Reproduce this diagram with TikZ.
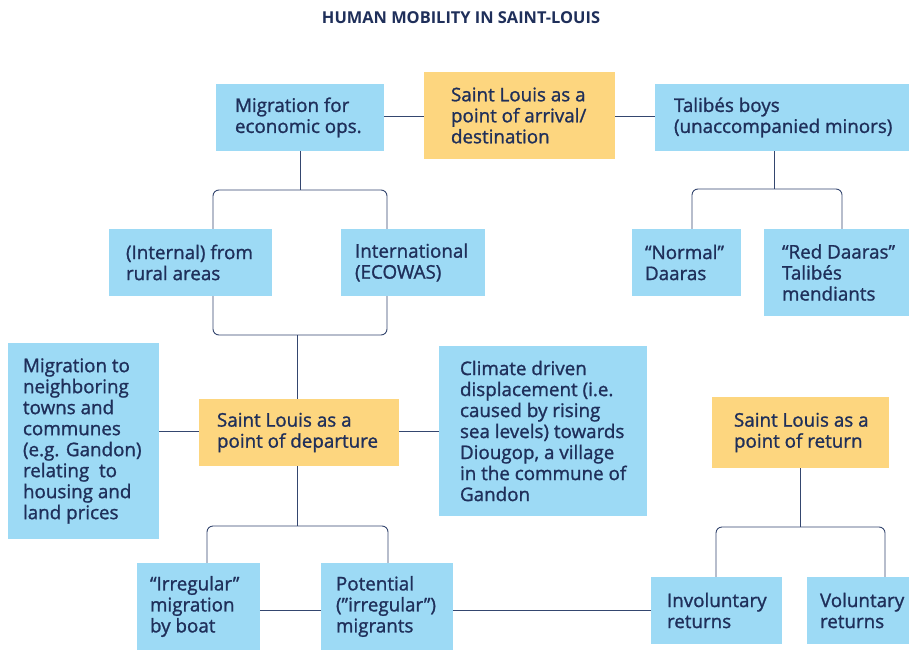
\documentclass[tikz,border=0pt]{standalone}
\usepackage{fontspec}
\setmainfont[FakeBold=1.2]{Open Sans}
\newfontfamily\titlefont{Open Sans}
\usetikzlibrary{calc}
\definecolor{boxblue}{HTML}{9DDAF5}
\definecolor{boxyellow}{HTML}{FDD67F}
\definecolor{navy}{HTML}{1F2F5A}
\definecolor{connc}{HTML}{34466F}
\tikzset{
  bluebox/.style={fill=boxblue, draw=none, inner sep=0, rectangle},
  yelbox/.style={fill=boxyellow, draw=none, inner sep=0, rectangle},
  txt/.style={anchor=west, align=left, inner sep=0, text=navy, font=\fontsize{18.8}{21}\selectfont},
  conn/.style={draw=connc, line width=0.9pt},
  rc/.style={rounded corners=6pt}
}
\newcommand{\mybox}[6]{% style, name, x1,y1,x2,y2
  \node[#1, minimum width={(#5)-(#3)}, minimum height={(#6)-(#4)}] (#2) at ({((#3)+(#5))/2},{((#4)+(#6))/2}) {};
}
\begin{document}
\begin{tikzpicture}[x=1pt,y=-1pt]
\useasboundingbox (0,0) rectangle (909,650);
\fill[white] (0,0) rectangle (909,650);
% title
\node[text=navy, font=\titlefont\fontsize{16.4}{19}\selectfont\bfseries] (title) at (461,18) {HUMAN MOBILITY IN SAINT-LOUIS};
% boxes
\mybox{bluebox}{m1}{216}{84}{384}{151}
\mybox{yelbox}{arr}{424}{72}{615}{159}
\mybox{bluebox}{tal}{655}{84}{909}{151}
\mybox{bluebox}{int}{109}{229}{272}{296}
\mybox{bluebox}{intl}{341}{229}{485}{296}
\mybox{bluebox}{nor}{632}{229}{741}{296}
\mybox{bluebox}{red}{764}{229}{909}{316}
\mybox{bluebox}{nei}{8}{343}{159}{539}
\mybox{yelbox}{dep}{199}{399}{399}{466}
\mybox{bluebox}{clim}{439}{346}{647}{516}
\mybox{yelbox}{ret}{712}{397}{889}{468}
\mybox{bluebox}{irr}{137}{563}{260}{650}
\mybox{bluebox}{pot}{321}{563}{453}{650}
\mybox{bluebox}{inv}{651}{577}{782}{644}
\mybox{bluebox}{vol}{807}{577}{909}{644}
% texts
\node[txt] (m1t) at ([xshift=19]m1.west) {Migration for\\economic ops.};
\node[txt] (arrt) at ([xshift=27]arr.west) {Saint Louis as a\\point of arrival/\\destination};
\node[txt] (talt) at ([xshift=19]tal.west) {Talibés boys\\(unaccompanied minors)};
\node[txt] (intt) at ([xshift=17]int.west) {(Internal) from\\rural areas};
\node[txt] (intlt) at ([xshift=14]intl.west) {International\\(ECOWAS)};
\node[txt] (nort) at ([xshift=13]nor.west) {“Normal”\\Daaras};
\node[txt] (redt) at ([xshift=18]red.west) {“Red Daaras”\\Talibés\\mendiants};
\node[txt] (neit) at ([xshift=15]nei.west) {Migration to\\neighboring\\towns and\\communes\\(e.g. Gandon)\\relating\ \ to\\housing and\\land prices};
\node[txt] (dept) at ([xshift=18]dep.west) {Saint Louis as a\\point of departure};
\node[txt] (climt) at ([xshift=21]clim.west) {Climate driven\\displacement (i.e.\\caused by rising\\sea levels) towards\\Diougop, a village\\in the commune of\\Gandon};
\node[txt] (rett) at ([xshift=22]ret.west) {Saint Louis as a\\point of return};
\node[txt] (irrt) at ([xshift=13]irr.west) {“Irregular”\\migration\\by boat};
\node[txt] (pott) at ([xshift=15]pot.west) {Potential\\(”irregular”)\\migrants};
\node[txt] (invt) at ([xshift=16]inv.west) {Involuntary\\returns};
\node[txt] (volt) at ([xshift=13]vol.west) {Voluntary\\returns};
% horizontal connectors
\draw[conn] (arr.west |- 0,116) -- (m1.east |- 0,116);
\draw[conn] (arr.east |- 0,116) -- (tal.west |- 0,116);
\draw[conn] (dep.west |- 0,431) -- (nei.east |- 0,431);
\draw[conn] (dep.east |- 0,431) -- (clim.west |- 0,431);
\draw[conn] (irr.east |- 0,610) -- (pot.west |- 0,610);
\draw[conn] (pot.east |- 0,610) -- (inv.west |- 0,610);
% brackets
\coordinate (j1) at (300,190);
\draw[conn] (m1.south -| j1) -- (j1);
\draw[conn,rc] ([xshift=22.5]int.north) |- (j1) -| ([xshift=-26]intl.north);
\coordinate (j2) at (297,335);
\draw[conn,rc] ([xshift=22.5]int.south) |- (j2) -| ([xshift=-26]intl.south);
\draw[conn] (j2) -- (j2 |- dep.north);
\coordinate (j3) at (774,189);
\draw[conn] (tal.south -| j3) -- (j3);
\draw[conn,rc] ([xshift=5.5]nor.north) |- (j3) -| ([xshift=5.5]red.north);
\coordinate (j4) at (297,526);
\draw[conn] (dep.south -| j4) -- (j4);
\draw[conn,rc] ([xshift=8.5]irr.north) |- (j4) -| ([xshift=1]pot.north);
\coordinate (j5) at (800,527);
\draw[conn] (ret.south -| j5) -- (j5);
\draw[conn,rc] ([xshift=-0.5]inv.north) |- (j5) -| ([xshift=27]vol.north);
\end{tikzpicture}
\end{document}
